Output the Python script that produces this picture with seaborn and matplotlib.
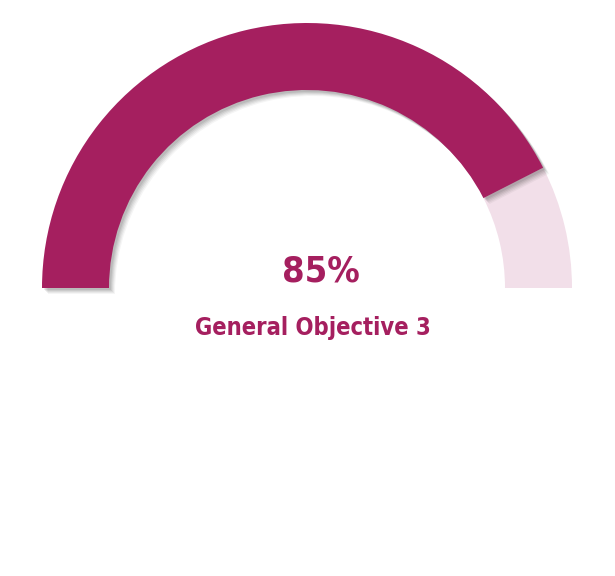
import matplotlib
matplotlib.use("Agg")
import matplotlib.pyplot as plt
from matplotlib.patches import Wedge
import seaborn as sns

# ─── Data ─────────────────────────────────────────────────────────────────────
VALUE = 85
TOTAL = 100
LABEL = "General Objective 3"

FILL = "#A51F5F"
TRACK = "#F2DFE9"

sns.set_theme(style="white")
plt.rcParams["font.family"] = ["DejaVu Sans"]

fig = plt.figure(figsize=(6.15, 5.76), dpi=100, facecolor="white")
ax = fig.add_axes([0, 0, 1, 1])
ax.set_xlim(0, 615)
ax.set_ylim(0, 576)
ax.set_aspect("equal")
ax.axis("off")

cx, cy = 307, 288
r_out, width = 265, 67
end_angle = 180 - 180 * VALUE / TOTAL

# background track
ax.add_patch(Wedge((cx, cy), r_out, 0, end_angle, width=width,
                   facecolor=TRACK, edgecolor="none"))

# soft shadow under the filled arc
for i, a in enumerate([0.04, 0.05, 0.06, 0.07, 0.08]):
    off = 6 - i
    ax.add_patch(Wedge((cx + off, cy - off), r_out, end_angle, 180, width=width,
                       facecolor="black", edgecolor="none", alpha=a))

ax.add_patch(Wedge((cx, cy), r_out, end_angle, 180, width=width,
                   facecolor=FILL, edgecolor="none"))

ax.text(321, 576 - 272, f"{VALUE}%", ha="center", va="center",
        fontsize=26, fontweight="bold", fontstretch="condensed", color=FILL)
ax.text(313, 576 - 328, LABEL, ha="center", va="center",
        fontsize=17, fontweight="bold", fontstretch="condensed", color=FILL)

fig.savefig("out.png", dpi=100, facecolor="white")
